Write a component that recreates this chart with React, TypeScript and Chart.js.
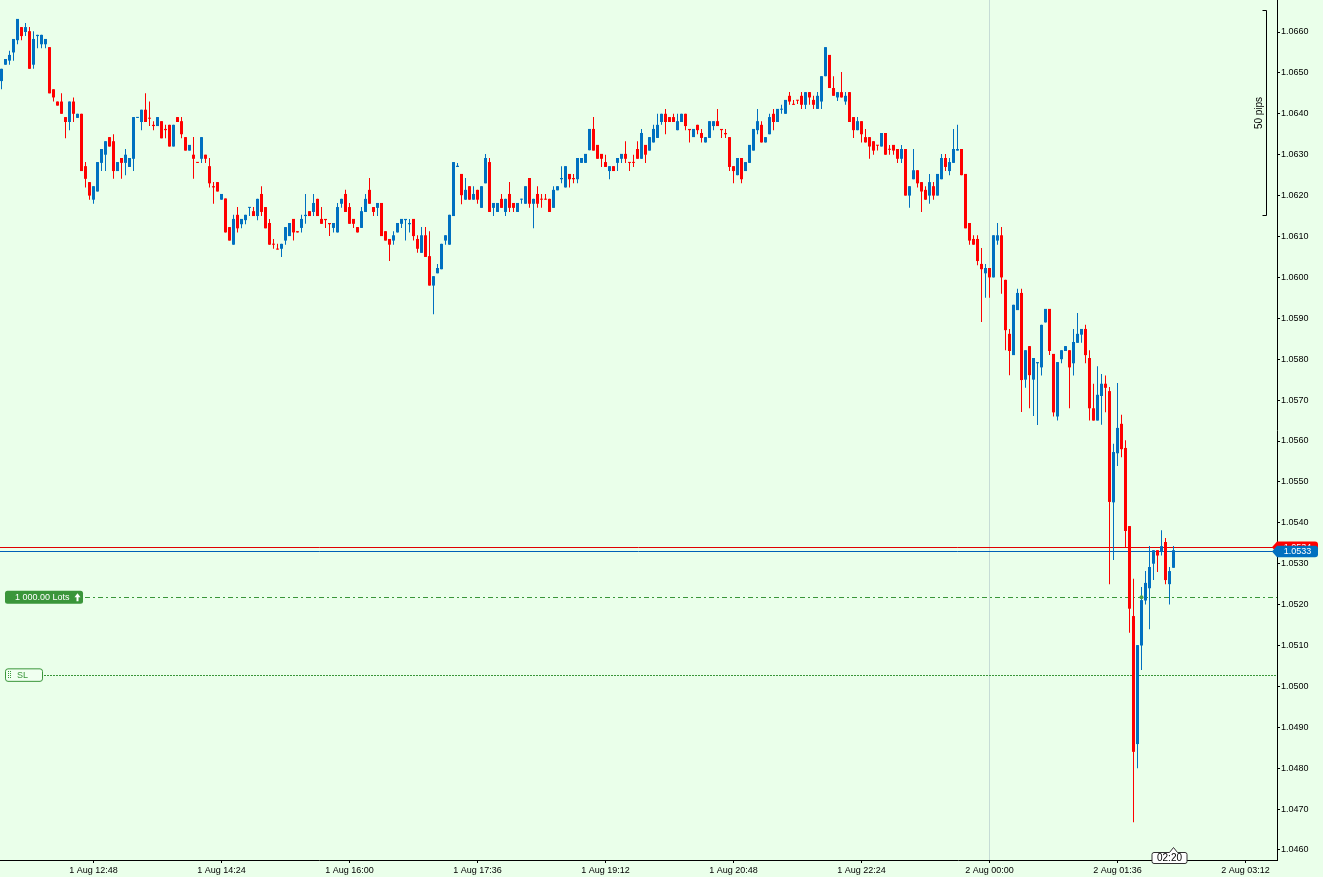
import React, { useEffect, useRef } from "react";
import { Chart, registerables } from "chart.js";

Chart.register(...registerables);

// ---------- data (3-minute bars, 1 Aug 11:39 -> 2 Aug 02:18) ----------
const FIRST_BAR_MINUTE = 699; // minutes since 1 Aug 00:00 -> 1 Aug 11:39
const BAR_MINUTES = 3;

const OPEN = [
  1.0648, 1.0652, 1.0653, 1.0655, 1.0658, 1.06612, 1.066, 1.06602, 1.0652, 1.0659,
  1.0657, 1.0657, 1.06563, 1.0646, 1.0643, 1.0643, 1.06392, 1.0638, 1.0643, 1.0639,
  1.064, 1.06272, 1.06233, 1.0619, 1.0621, 1.0628, 1.063, 1.06343, 1.06333, 1.0626,
  1.06292, 1.0628, 1.0627, 1.0629, 1.0639, 1.0638, 1.0641, 1.0639, 1.06373, 1.0637,
  1.06382, 1.06363, 1.06373, 1.0632, 1.06392, 1.06382, 1.06343, 1.0631, 1.063, 1.06282,
  1.0629, 1.063, 1.06272, 1.06223, 1.06233, 1.0619, 1.06193, 1.06123, 1.0608, 1.06153,
  1.0613, 1.0614, 1.0617, 1.06162, 1.0615, 1.06204, 1.06172, 1.06133, 1.06082, 1.0607,
  1.0607, 1.0609, 1.06101, 1.06143, 1.06113, 1.06121, 1.0615, 1.06162, 1.0616, 1.06192,
  1.06143, 1.06143, 1.06133, 1.06121, 1.0611, 1.0618, 1.06204, 1.06172, 1.06143, 1.06123,
  1.06121, 1.0616, 1.06214, 1.06172, 1.0617, 1.06182, 1.06113, 1.06094, 1.0609, 1.0611,
  1.06131, 1.0614, 1.0613, 1.06143, 1.06094, 1.0606, 1.06103, 1.06052, 1.0598, 1.0601,
  1.0602, 1.0609, 1.0608, 1.0615, 1.0627, 1.06253, 1.0619, 1.06223, 1.0619, 1.06214,
  1.0617, 1.0623, 1.06282, 1.0617, 1.0616, 1.06192, 1.0616, 1.06204, 1.06182, 1.0616,
  1.0619, 1.0618, 1.06243, 1.0618, 1.06204, 1.06192, 1.06192, 1.06192, 1.0617, 1.06213,
  1.0624, 1.0622, 1.06253, 1.06243, 1.0624, 1.0628, 1.0628, 1.06311, 1.06363, 1.06324,
  1.06302, 1.06282, 1.0626, 1.06272, 1.0628, 1.0629, 1.06302, 1.06282, 1.06282, 1.06314,
  1.0629, 1.06324, 1.0631, 1.0633, 1.06341, 1.0638, 1.064, 1.06392, 1.06392, 1.0636,
  1.0638, 1.064, 1.06363, 1.06343, 1.06373, 1.06353, 1.0633, 1.06341, 1.0637, 1.06382,
  1.06363, 1.06353, 1.06343, 1.06272, 1.0625, 1.06292, 1.0626, 1.0628, 1.0631, 1.0636,
  1.06373, 1.0633, 1.0635, 1.064, 1.0638, 1.0641, 1.064, 1.06444, 1.06424, 1.06434,
  1.06444, 1.06422, 1.06453, 1.06434, 1.06412, 1.0643, 1.06492, 1.06544, 1.06463, 1.0644,
  1.06453, 1.0643, 1.06453, 1.06392, 1.0636, 1.06382, 1.06343, 1.06343, 1.06333, 1.06324,
  1.0632, 1.06353, 1.06314, 1.06324, 1.06314, 1.0629, 1.06314, 1.062, 1.0624, 1.06262,
  1.06233, 1.06214, 1.062, 1.06223, 1.062, 1.0624, 1.06292, 1.0626, 1.0628, 1.0631,
  1.06314, 1.06253, 1.06133, 1.06094, 1.06094, 1.06033, 1.0601, 1.06023, 1.06, 1.0609,
  1.06103, 1.05994, 1.05862, 1.0581, 1.0592, 1.05962, 1.0575, 1.05832, 1.0575, 1.0579,
  1.0578, 1.0589, 1.05923, 1.05813, 1.0566, 1.058, 1.0582, 1.05822, 1.0579, 1.0584,
  1.0586, 1.05874, 1.05803, 1.0568, 1.0565, 1.0571, 1.0574, 1.05722, 1.0545, 1.0557,
  1.05642, 1.05583, 1.05392, 1.05172, 1.04859, 1.051, 1.0521, 1.0524, 1.053, 1.05333,
  1.05331, 1.05353, 1.0525, 1.0529,
];

const HIGH = [
  1.0651, 1.06534, 1.06554, 1.06583, 1.06632, 1.06612, 1.06622, 1.06612, 1.06602, 1.06593,
  1.06593, 1.06583, 1.06563, 1.0646, 1.0643, 1.0645, 1.06392, 1.0643, 1.0644, 1.064,
  1.064, 1.06282, 1.06233, 1.06223, 1.06282, 1.06314, 1.06333, 1.06343, 1.0635, 1.06282,
  1.06292, 1.06314, 1.06292, 1.06392, 1.06392, 1.0641, 1.0645, 1.0643, 1.06382, 1.06392,
  1.06382, 1.06373, 1.06373, 1.06373, 1.06392, 1.06392, 1.06343, 1.06324, 1.06343, 1.06282,
  1.06343, 1.063, 1.06292, 1.06233, 1.06233, 1.06204, 1.06193, 1.06123, 1.06153, 1.06172,
  1.06143, 1.06153, 1.06172, 1.06172, 1.06192, 1.06223, 1.06172, 1.06143, 1.06094, 1.06082,
  1.06082, 1.06123, 1.06133, 1.06143, 1.06113, 1.06153, 1.06204, 1.06162, 1.06204, 1.06192,
  1.06172, 1.06143, 1.06133, 1.06133, 1.06182, 1.06192, 1.06214, 1.06182, 1.06143, 1.06123,
  1.06172, 1.06204, 1.06243, 1.06172, 1.06182, 1.06182, 1.06113, 1.06094, 1.06113, 1.06133,
  1.06143, 1.06143, 1.06143, 1.06143, 1.06103, 1.06123, 1.06123, 1.06113, 1.06003, 1.06033,
  1.06082, 1.06103, 1.06153, 1.06282, 1.0628, 1.06253, 1.06243, 1.06223, 1.06223, 1.06214,
  1.06223, 1.06302, 1.06292, 1.06182, 1.06182, 1.06204, 1.06192, 1.06233, 1.06182, 1.06182,
  1.06192, 1.06223, 1.06243, 1.06192, 1.06223, 1.06204, 1.06204, 1.06192, 1.06223, 1.06223,
  1.06272, 1.06272, 1.06253, 1.06253, 1.06292, 1.06292, 1.06302, 1.06363, 1.06392, 1.06324,
  1.06302, 1.063, 1.06272, 1.06272, 1.06292, 1.06302, 1.06333, 1.06282, 1.063, 1.06333,
  1.06363, 1.06324, 1.06343, 1.06373, 1.064, 1.064, 1.06412, 1.06392, 1.064, 1.064,
  1.064, 1.064, 1.06363, 1.06363, 1.06373, 1.06363, 1.06343, 1.06382, 1.06382, 1.06412,
  1.06363, 1.06363, 1.06343, 1.06272, 1.06292, 1.06292, 1.06282, 1.06324, 1.06363, 1.06412,
  1.06382, 1.06343, 1.064, 1.06412, 1.06412, 1.06422, 1.06434, 1.06453, 1.06434, 1.06434,
  1.06453, 1.06453, 1.06453, 1.06444, 1.06453, 1.06492, 1.06563, 1.06544, 1.06492, 1.06453,
  1.06502, 1.06453, 1.06453, 1.06392, 1.06392, 1.06382, 1.06363, 1.06343, 1.06333, 1.06324,
  1.06353, 1.06353, 1.06324, 1.06324, 1.06314, 1.06324, 1.06314, 1.06223, 1.06314, 1.06262,
  1.06233, 1.06223, 1.06253, 1.06233, 1.06253, 1.06302, 1.06302, 1.06292, 1.06363, 1.06373,
  1.06314, 1.06253, 1.06133, 1.06103, 1.06103, 1.06072, 1.06033, 1.06023, 1.06103, 1.06133,
  1.06123, 1.05994, 1.05874, 1.05933, 1.05972, 1.05972, 1.05822, 1.05832, 1.05803, 1.05793,
  1.05884, 1.05923, 1.05923, 1.05813, 1.05793, 1.05822, 1.05832, 1.05822, 1.05874, 1.05913,
  1.05874, 1.05884, 1.05822, 1.0574, 1.05783, 1.05764, 1.0576, 1.05732, 1.05593, 1.05742,
  1.05664, 1.05602, 1.05392, 1.05263, 1.05101, 1.05243, 1.05282, 1.05343, 1.05333, 1.05333,
  1.05382, 1.05363, 1.05292, 1.05343,
];

const LOW = [
  1.0646, 1.0652, 1.0652, 1.0653, 1.0657, 1.0658, 1.0659, 1.0651, 1.0651, 1.0656,
  1.0656, 1.0656, 1.0645, 1.0643, 1.0642, 1.064, 1.0634, 1.0636, 1.0638, 1.0639,
  1.0626, 1.0622, 1.0619, 1.0618, 1.0621, 1.0626, 1.0626, 1.0632, 1.06241, 1.0626,
  1.06241, 1.0625, 1.0627, 1.0626, 1.0639, 1.0636, 1.0638, 1.0637, 1.0636, 1.0637,
  1.0634, 1.0634, 1.0632, 1.0632, 1.0638, 1.0634, 1.0631, 1.0631, 1.06241, 1.0628,
  1.0628, 1.0628, 1.0622, 1.0618, 1.0621, 1.0619, 1.0611, 1.0609, 1.0608, 1.0611,
  1.0612, 1.0613, 1.0615, 1.0615, 1.0614, 1.0615, 1.0612, 1.0608, 1.0607, 1.06068,
  1.0605, 1.0608, 1.06101, 1.0609, 1.0611, 1.0611, 1.06131, 1.0615, 1.0615, 1.0615,
  1.06131, 1.06121, 1.06101, 1.0611, 1.0611, 1.0617, 1.0616, 1.06131, 1.06121, 1.0611,
  1.06121, 1.0616, 1.0618, 1.0615, 1.0615, 1.06101, 1.0609, 1.0604, 1.0608, 1.0611,
  1.06121, 1.0609, 1.0611, 1.0609, 1.0606, 1.0606, 1.0605, 1.0598, 1.0591, 1.0601,
  1.0602, 1.0608, 1.0608, 1.0615, 1.0627, 1.06179, 1.0619, 1.0619, 1.0619, 1.0618,
  1.0617, 1.0623, 1.0616, 1.0615, 1.0616, 1.0617, 1.0615, 1.0616, 1.0616, 1.0616,
  1.0618, 1.0618, 1.0617, 1.0612, 1.0617, 1.0617, 1.0619, 1.0616, 1.0617, 1.06213,
  1.0623, 1.0622, 1.0622, 1.0623, 1.0623, 1.0628, 1.0628, 1.06311, 1.0631, 1.0629,
  1.0627, 1.0627, 1.0624, 1.0626, 1.0626, 1.0628, 1.0628, 1.0626, 1.0627, 1.0629,
  1.0629, 1.0628, 1.0631, 1.0633, 1.06341, 1.06373, 1.0635, 1.0638, 1.0638, 1.0636,
  1.0638, 1.0636, 1.0633, 1.06343, 1.0635, 1.0633, 1.0633, 1.06341, 1.0636, 1.0637,
  1.06341, 1.06341, 1.0626, 1.0623, 1.0625, 1.0623, 1.0626, 1.0628, 1.0631, 1.0635,
  1.0633, 1.0633, 1.0635, 1.0636, 1.0638, 1.064, 1.064, 1.06422, 1.06422, 1.06424,
  1.06412, 1.06412, 1.06422, 1.06412, 1.06412, 1.06412, 1.06492, 1.06463, 1.06444, 1.06431,
  1.0644, 1.06422, 1.0638, 1.06341, 1.0636, 1.0633, 1.0633, 1.0629, 1.063, 1.0631,
  1.0632, 1.063, 1.063, 1.063, 1.0628, 1.0628, 1.062, 1.0617, 1.0624, 1.0622,
  1.0616, 1.0619, 1.0618, 1.0619, 1.062, 1.0624, 1.0626, 1.0625, 1.0628, 1.0631,
  1.0625, 1.0612, 1.0608, 1.0608, 1.0603, 1.05891, 1.0595, 1.0595, 1.06, 1.0608,
  1.0596, 1.05822, 1.05761, 1.0581, 1.0592, 1.05671, 1.0573, 1.0568, 1.05661, 1.05639,
  1.0576, 1.0589, 1.0581, 1.0566, 1.0565, 1.0579, 1.0582, 1.0568, 1.0576, 1.0584,
  1.0584, 1.0579, 1.0565, 1.0565, 1.0565, 1.0564, 1.0567, 1.0525, 1.05309, 1.05539,
  1.0556, 1.0534, 1.05131, 1.04668, 1.048, 1.0504, 1.052, 1.0514, 1.0526, 1.0528,
  1.0532, 1.0525, 1.052, 1.0529,
];

const CLOSE = [
  1.0651, 1.06534, 1.06544, 1.06583, 1.06632, 1.0659, 1.06612, 1.0651, 1.06583, 1.06593,
  1.06593, 1.06583, 1.0645, 1.0644, 1.0642, 1.064, 1.0638, 1.0643, 1.064, 1.064,
  1.0626, 1.06241, 1.062, 1.06223, 1.06282, 1.06314, 1.06333, 1.0632, 1.0626, 1.06282,
  1.0628, 1.063, 1.06292, 1.06392, 1.06392, 1.0641, 1.0638, 1.06388, 1.0637, 1.06392,
  1.0634, 1.0636, 1.0632, 1.06373, 1.0638, 1.0635, 1.0631, 1.06324, 1.0629, 1.0628,
  1.06343, 1.0629, 1.0623, 1.0622, 1.0621, 1.06204, 1.0611, 1.0609, 1.06143, 1.0612,
  1.06143, 1.06153, 1.06172, 1.0615, 1.06192, 1.0616, 1.0612, 1.0608, 1.0608, 1.06068,
  1.06082, 1.06123, 1.06133, 1.0611, 1.0611, 1.06143, 1.06153, 1.0615, 1.06182, 1.0615,
  1.06131, 1.0614, 1.0613, 1.06133, 1.06172, 1.06192, 1.0616, 1.06131, 1.06131, 1.0611,
  1.06162, 1.06192, 1.0618, 1.0616, 1.06182, 1.06101, 1.0609, 1.0608, 1.06103, 1.06133,
  1.06143, 1.06143, 1.06133, 1.06101, 1.0607, 1.06103, 1.0605, 1.0598, 1.06003, 1.06023,
  1.06082, 1.06103, 1.06153, 1.06282, 1.06273, 1.06201, 1.06214, 1.0619, 1.06204, 1.0619,
  1.06223, 1.06292, 1.0616, 1.06182, 1.06182, 1.0617, 1.06192, 1.0617, 1.0617, 1.06182,
  1.06192, 1.06223, 1.0618, 1.06192, 1.0618, 1.0619, 1.0619, 1.0616, 1.06214, 1.06223,
  1.06243, 1.06272, 1.0624, 1.0624, 1.06292, 1.06292, 1.06302, 1.06363, 1.0631, 1.0629,
  1.0629, 1.0627, 1.06272, 1.0626, 1.06292, 1.06302, 1.0629, 1.0628, 1.0628, 1.0629,
  1.06353, 1.063, 1.06343, 1.06363, 1.06373, 1.064, 1.0638, 1.0638, 1.0638, 1.06382,
  1.064, 1.0637, 1.0636, 1.06363, 1.0636, 1.06341, 1.06343, 1.06382, 1.06382, 1.0637,
  1.0636, 1.0635, 1.0627, 1.0626, 1.06292, 1.0624, 1.06282, 1.06324, 1.06363, 1.06382,
  1.0633, 1.06343, 1.06392, 1.0638, 1.06412, 1.06412, 1.06434, 1.0643, 1.06422, 1.06432,
  1.06422, 1.06453, 1.0644, 1.06422, 1.06444, 1.06492, 1.06563, 1.06463, 1.06444, 1.06453,
  1.0644, 1.06444, 1.0638, 1.0636, 1.06382, 1.0635, 1.0633, 1.0632, 1.0631, 1.06322,
  1.06353, 1.063, 1.06312, 1.0631, 1.0629, 1.06314, 1.062, 1.06223, 1.06262, 1.0623,
  1.0621, 1.0619, 1.06233, 1.062, 1.06253, 1.06292, 1.0627, 1.06282, 1.06314, 1.06314,
  1.0625, 1.0612, 1.0609, 1.0608, 1.0604, 1.0602, 1.06023, 1.06, 1.06103, 1.06103,
  1.06, 1.05871, 1.0582, 1.05933, 1.05962, 1.05749, 1.05822, 1.05761, 1.05803, 1.05793,
  1.05884, 1.05923, 1.0582, 1.0567, 1.05793, 1.05822, 1.05832, 1.0578, 1.05842, 1.05862,
  1.05874, 1.0581, 1.0568, 1.0565, 1.05713, 1.0574, 1.0573, 1.05451, 1.05573, 1.05632,
  1.0558, 1.0538, 1.0519, 1.0484, 1.05101, 1.05211, 1.05253, 1.05292, 1.05333, 1.0532,
  1.05343, 1.0526, 1.05282, 1.05333,
];

// ---------- axes ----------
const X_TICKS = [768, 864, 960, 1056, 1152, 1248, 1344, 1440, 1536, 1632];
const X_TICK_LABELS = [
  "1 Aug 12:48", "1 Aug 14:24", "1 Aug 16:00", "1 Aug 17:36", "1 Aug 19:12",
  "1 Aug 20:48", "1 Aug 22:24", "2 Aug 00:00", "2 Aug 01:36", "2 Aug 03:12",
];
const Y_TICKS = [
  1.046, 1.047, 1.048, 1.049, 1.05, 1.051, 1.052, 1.053, 1.054, 1.055, 1.056,
  1.057, 1.058, 1.059, 1.06, 1.061, 1.062, 1.063, 1.064, 1.065, 1.066,
];
const X_MIN = 697.875;
const X_MAX = 1655.625;
const Y_MIN = 1.0457555;
const Y_MAX = 1.0667824;

// ---------- annotations ----------
const ASK_PRICE = 1.0534;
const BID_PRICE = 1.0533;
const ORDER_PRICE = 1.05218;
const ORDER_TEXT = "1 000.00 Lots";
const SL_PRICE = 1.05027;
const SL_TEXT = "SL";
const DAY_SEPARATOR_MINUTE = 1440;
const TRADE_MARK_MINUTE = 1554;
const TRADE_MARK_PRICE = 1.05218;
const CURRENT_TIME_TEXT = "02:20";
const PIPS_TOP = 1.06652;
const PIPS_SPAN = 0.005;
const PIPS_TEXT = "50 pips";

// ---------- styles ----------
const BG = "#eaffea";
const BULL = "#0070c0";
const BEAR = "#ff0000";
const GREEN = "#3a963a";
const FONT = "'Liberation Sans', Arial, sans-serif";

const TIMES = OPEN.map((_, i) => FIRST_BAR_MINUTE + i * BAR_MINUTES);
const COLORS = OPEN.map((o, i) => (CLOSE[i] >= o ? BULL : BEAR));

function roundRectPath(ctx: CanvasRenderingContext2D, x: number, y: number, w: number, h: number, r: number) {
  ctx.beginPath();
  ctx.moveTo(x + r, y);
  ctx.arcTo(x + w, y, x + w, y + h, r);
  ctx.arcTo(x + w, y + h, x, y + h, r);
  ctx.arcTo(x, y + h, x, y, r);
  ctx.arcTo(x, y, x + w, y, r);
  ctx.closePath();
}

function priceTag(ctx: CanvasRenderingContext2D, yc: number, left: number, right: number, color: string, text: string) {
  const h = 11.5;
  const r = 3;
  ctx.beginPath();
  ctx.moveTo(left, yc);
  ctx.lineTo(left + 5, yc - h / 2);
  ctx.lineTo(right - r, yc - h / 2);
  ctx.arcTo(right, yc - h / 2, right, yc, r);
  ctx.arcTo(right, yc + h / 2, right - r, yc + h / 2, r);
  ctx.lineTo(left + 5, yc + h / 2);
  ctx.closePath();
  ctx.fillStyle = color;
  ctx.fill();
  ctx.fillStyle = "#ffffff";
  ctx.font = `9px ${FONT}`;
  ctx.textAlign = "center";
  ctx.textBaseline = "middle";
  ctx.fillText(text, (left + 5 + right) / 2, yc + 0.5);
}

const overlayPlugin = {
  id: "mtOverlay",
  beforeDraw(chart: any) {
    const ctx = chart.ctx as CanvasRenderingContext2D;
    ctx.save();
    ctx.fillStyle = BG;
    ctx.fillRect(0, 0, chart.width, chart.height);
    ctx.restore();
  },
  beforeDatasetsDraw(chart: any) {
    const ctx = chart.ctx as CanvasRenderingContext2D;
    const a = chart.chartArea;
    const x = chart.scales.x;
    const y = chart.scales.y;
    ctx.save();
    // day separator
    const sx = Math.floor(x.getPixelForValue(DAY_SEPARATOR_MINUTE)) + 0.5;
    ctx.strokeStyle = "#c6dcd6";
    ctx.lineWidth = 1;
    ctx.beginPath();
    ctx.moveTo(sx, a.top);
    ctx.lineTo(sx, a.bottom);
    ctx.stroke();

    const hline = (price: number, color: string, dash: number[], x0: number) => {
      const py = Math.floor(y.getPixelForValue(price)) + 0.5;
      ctx.strokeStyle = color;
      ctx.setLineDash(dash);
      ctx.beginPath();
      ctx.moveTo(x0, py);
      ctx.lineTo(a.right, py);
      ctx.stroke();
      ctx.setLineDash([]);
    };
    hline(ORDER_PRICE, GREEN, [5, 3, 2, 3], a.left + 85);
    hline(SL_PRICE, GREEN, [2, 1], a.left + 44);
    hline(ASK_PRICE, "#e00000", [], a.left);
    hline(BID_PRICE, "#0060b8", [], a.left);
    ctx.restore();
  },
  afterDraw(chart: any) {
    const ctx = chart.ctx as CanvasRenderingContext2D;
    const a = chart.chartArea;
    const x = chart.scales.x;
    const y = chart.scales.y;
    ctx.save();

    // trade marker
    ctx.fillStyle = "#4aa04a";
    ctx.beginPath();
    ctx.arc(x.getPixelForValue(TRADE_MARK_MINUTE), y.getPixelForValue(TRADE_MARK_PRICE), 2, 0, Math.PI * 2);
    ctx.fill();

    // order volume label
    const oy = y.getPixelForValue(ORDER_PRICE);
    roundRectPath(ctx, a.left + 5, oy - 6.5, 78, 13, 2.5);
    ctx.fillStyle = GREEN;
    ctx.fill();
    ctx.fillStyle = "#ffffff";
    ctx.font = `9px ${FONT}`;
    ctx.textAlign = "left";
    ctx.textBaseline = "middle";
    ctx.fillText(ORDER_TEXT, a.left + 15, oy + 0.5);
    // up arrow
    const ax = a.left + 77.5;
    ctx.beginPath();
    ctx.moveTo(ax - 3, oy);
    ctx.lineTo(ax, oy - 4);
    ctx.lineTo(ax + 3, oy);
    ctx.closePath();
    ctx.fill();
    ctx.fillRect(ax - 1, oy - 1, 2, 5);

    // SL label
    const sy = y.getPixelForValue(SL_PRICE);
    roundRectPath(ctx, a.left + 5.5, sy - 6.5, 37, 12.5, 2.5);
    ctx.fillStyle = "#f0fff0";
    ctx.fill();
    ctx.strokeStyle = GREEN;
    ctx.lineWidth = 1;
    ctx.stroke();
    ctx.fillStyle = GREEN;
    for (let r = 0; r < 4; r++) {
      for (let c = 0; c < 2; c++) {
        ctx.fillRect(a.left + 8 + c * 2, Math.round(sy) - 4 + r * 2, 1, 1);
      }
    }
    ctx.font = `9px ${FONT}`;
    ctx.textAlign = "left";
    ctx.textBaseline = "middle";
    ctx.fillText(SL_TEXT, a.left + 17, sy + 0.5);

    // right-axis price tags
    const tagL = a.right - 5;
    const tagR = a.right + 41;
    priceTag(ctx, y.getPixelForValue(ASK_PRICE), tagL, tagR, "#ff0000", ASK_PRICE.toFixed(4));
    priceTag(ctx, y.getPixelForValue(BID_PRICE), tagL, tagR, BULL, BID_PRICE.toFixed(4));

    // 50 pips ruler
    const bx = a.right - 10.5;
    const pt = Math.floor(y.getPixelForValue(PIPS_TOP)) + 0.5;
    const pb = Math.floor(y.getPixelForValue(PIPS_TOP - PIPS_SPAN)) + 0.5;
    ctx.strokeStyle = "#000000";
    ctx.lineWidth = 1;
    ctx.beginPath();
    ctx.moveTo(bx - 4, pt);
    ctx.lineTo(bx, pt);
    ctx.lineTo(bx, pb);
    ctx.lineTo(bx - 4, pb);
    ctx.stroke();
    ctx.save();
    ctx.translate(bx - 7, (pt + pb) / 2);
    ctx.rotate(-Math.PI / 2);
    ctx.fillStyle = "#000000";
    ctx.font = `10px ${FONT}`;
    ctx.textAlign = "center";
    ctx.textBaseline = "middle";
    ctx.fillText(PIPS_TEXT, 0, 0);
    ctx.restore();

    // current time box on the time axis
    const tipX = Math.floor(x.getPixelForValue(TIMES[TIMES.length - 1])) + 0.5;
    const bx0 = tipX - 21.5;
    const bx1 = tipX + 13.5;
    const by0 = a.bottom - 7.5;
    const by1 = a.bottom + 3.5;
    const rr = 2;
    ctx.beginPath();
    ctx.moveTo(bx0 + rr, by0);
    ctx.lineTo(tipX - 4, by0);
    ctx.lineTo(tipX, by0 - 5);
    ctx.lineTo(tipX + 4, by0);
    ctx.lineTo(bx1 - rr, by0);
    ctx.arcTo(bx1, by0, bx1, by0 + rr, rr);
    ctx.lineTo(bx1, by1 - rr);
    ctx.arcTo(bx1, by1, bx1 - rr, by1, rr);
    ctx.lineTo(bx0 + rr, by1);
    ctx.arcTo(bx0, by1, bx0, by1 - rr, rr);
    ctx.lineTo(bx0, by0 + rr);
    ctx.arcTo(bx0, by0, bx0 + rr, by0, rr);
    ctx.closePath();
    ctx.fillStyle = "#ffffff";
    ctx.fill();
    ctx.strokeStyle = "#303030";
    ctx.stroke();
    ctx.fillStyle = "#000000";
    ctx.font = `10px ${FONT}`;
    ctx.textAlign = "center";
    ctx.textBaseline = "middle";
    ctx.fillText(CURRENT_TIME_TEXT, (bx0 + bx1) / 2, (by0 + by1) / 2 + 0.5);

    ctx.restore();
  },
};

export default function App() {
  const ref = useRef<HTMLCanvasElement | null>(null);

  useEffect(() => {
    document.body.style.margin = "0";
    document.body.style.overflow = "hidden";
    const canvas = ref.current;
    if (!canvas) return;

    const bodies = TIMES.map((t, i) => ({ x: t, y: [OPEN[i], CLOSE[i]] }));
    const wicks = TIMES.map((t, i) => ({
      x: t,
      y: [Math.min(LOW[i], OPEN[i], CLOSE[i]), Math.max(HIGH[i], OPEN[i], CLOSE[i])],
    }));

    const chart = new Chart(canvas, {
      type: "bar",
      data: {
        datasets: [
          {
            label: "body",
            data: bodies as any,
            backgroundColor: COLORS,
            borderWidth: 0,
            barThickness: 3,
            minBarLength: 1,
            grouped: false,
            inflateAmount: 0,
          } as any,
          {
            label: "wick",
            data: wicks as any,
            backgroundColor: COLORS,
            borderWidth: 0,
            barThickness: 1,
            minBarLength: 1,
            grouped: false,
            inflateAmount: 0,
          } as any,
        ],
      },
      options: {
        responsive: false,
        animation: false,
        events: [],
        layout: { padding: 0 },
        plugins: {
          legend: { display: false },
          tooltip: { enabled: false },
        },
        scales: {
          x: {
            type: "linear",
            min: X_MIN,
            max: X_MAX,
            offset: false,
            bounds: "data",
            afterBuildTicks: (scale: any) => {
              scale.ticks = X_TICKS.map((v) => ({ value: v }));
            },
            afterFit: (scale: any) => {
              scale.height = 17;
              scale.paddingLeft = 0;
              scale.paddingRight = 0;
            },
            grid: {
              display: true,
              offset: false,
              drawOnChartArea: false,
              drawTicks: true,
              tickLength: 3,
              color: "#000000",
            },
            border: { display: true, color: "#000000", width: 1 },
            ticks: {
              autoSkip: false,
              maxRotation: 0,
              minRotation: 0,
              padding: 2,
              color: "#000000",
              font: { family: FONT, size: 9 },
              callback: (_v: any, index: number) => X_TICK_LABELS[index] ?? "",
            },
          },
          y: {
            type: "linear",
            position: "right",
            min: Y_MIN,
            max: Y_MAX,
            bounds: "data",
            afterBuildTicks: (scale: any) => {
              scale.ticks = Y_TICKS.map((v) => ({ value: v }));
            },
            afterFit: (scale: any) => {
              scale.width = 46;
              scale.paddingTop = 0;
              scale.paddingBottom = 0;
            },
            grid: {
              display: true,
              drawOnChartArea: false,
              drawTicks: true,
              tickLength: 3,
              color: "#000000",
            },
            border: { display: true, color: "#000000", width: 1 },
            ticks: {
              autoSkip: false,
              padding: 1,
              color: "#000000",
              font: { family: FONT, size: 9 },
              callback: (v: any) => Number(v).toFixed(4),
            },
          },
        },
      } as any,
      plugins: [overlayPlugin],
    });

    return () => chart.destroy();
  }, []);

  return (
    <div style={{ width: 1323, height: 877, background: BG, overflow: "hidden" }}>
      <canvas ref={ref} width={1323} height={877} style={{ display: "block" }} />
    </div>
  );
}
